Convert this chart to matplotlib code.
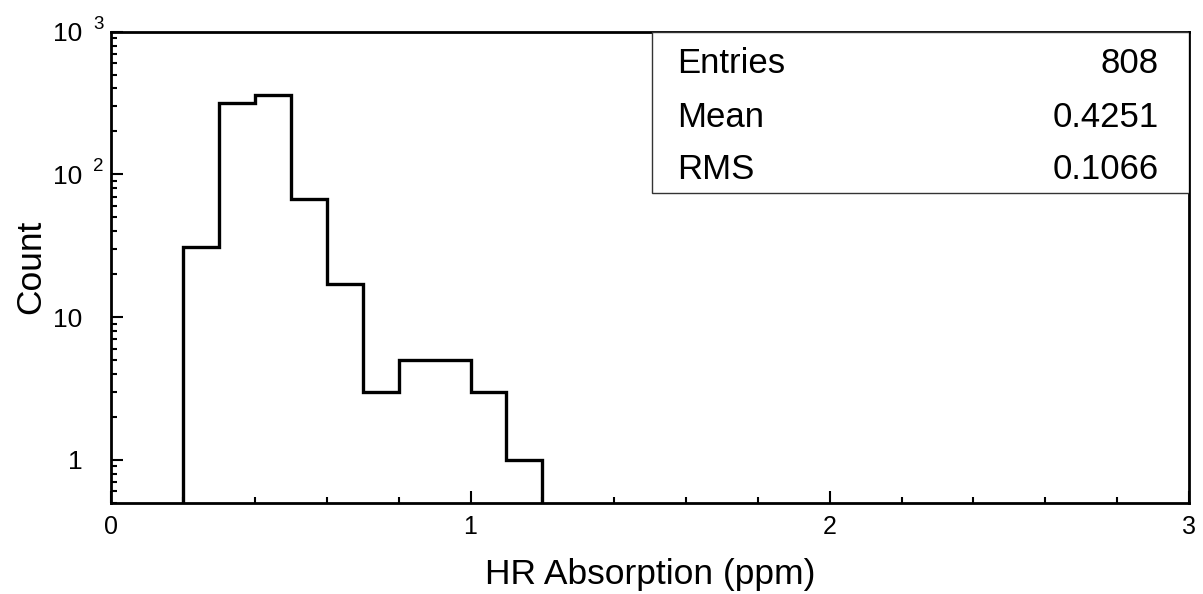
import numpy as np
import matplotlib
matplotlib.use("Agg")
import matplotlib.pyplot as plt
from matplotlib.ticker import FixedLocator, FixedFormatter, MultipleLocator, LogLocator, NullFormatter
from matplotlib.patches import Rectangle
from matplotlib.transforms import blended_transform_factory, offset_copy

# Data
bin_edges = [0.2, 0.3, 0.4, 0.5, 0.6, 0.7, 0.8, 0.9, 1.0, 1.1, 1.2]
counts = [31, 318, 358, 67, 17, 3, 5, 5, 3, 1]
stat_names = ["Entries", "Mean", "RMS"]
stat_values = ["808", "0.4251", "0.1066"]
x_ticks = [0, 1, 2, 3]
x_ticklabels = ["0", "1", "2", "3"]
y_ticks = [1, 10, 100, 1000]
y_ticklabels = ["1", "10", "10", "10"]
y_superscripts = {100: "2", 1000: "3"}

plt.rcParams['font.family'] = ['Liberation Sans', 'DejaVu Sans']

W, H = 1203, 594
fig = plt.figure(figsize=(W / 100, H / 100), dpi=100)
L, R, T, B = 111.3, 1189.0, 31.7, 502.8
ax = fig.add_axes([L / W, (H - B) / H, (R - L) / W, (B - T) / H])

def ax_x(px):
    return (px - L) / (R - L)

def ax_y(py):
    return (B - py) / (B - T)

ax.stairs(counts, bin_edges, baseline=0.5, color='black', linewidth=2.4)

ax.set_yscale('log')
ax.set_xlim(0, 3)
ax.set_ylim(0.5, 1000)

ax.xaxis.set_major_locator(FixedLocator(x_ticks))
ax.xaxis.set_major_formatter(FixedFormatter(x_ticklabels))
ax.xaxis.set_minor_locator(MultipleLocator(0.2))
ax.yaxis.set_major_locator(FixedLocator(y_ticks))
ax.yaxis.set_major_formatter(FixedFormatter(y_ticklabels))
ax.yaxis.set_minor_locator(LogLocator(base=10, subs=np.arange(2, 10), numticks=30))
ax.yaxis.set_minor_formatter(NullFormatter())

ax.tick_params(axis='both', which='major', direction='in', length=8.6, width=1.5,
               top=False, right=False)
ax.tick_params(axis='both', which='minor', direction='in', length=4.3, width=1.5,
               top=False, right=False)
ax.tick_params(axis='x', which='major', labelsize=18, pad=9)
ax.tick_params(axis='y', which='major', labelsize=19, pad=21)

for s in ax.spines.values():
    s.set_linewidth(2)

# superscripts for decade labels
trans = blended_transform_factory(ax.transAxes, ax.transData)
for val, sup in y_superscripts.items():
    ax.text(ax_x(93.5), val, sup, transform=offset_copy(trans, fig=fig, x=0, y=2.2, units='points'),
            fontsize=13.5, ha='left', va='baseline', clip_on=False)

ax.set_xlabel("HR Absorption (ppm)", fontsize=25.5, va='baseline')
ax.xaxis.set_label_coords(0.5, ax_y(584))
ax.set_ylabel("Count", fontsize=25.5, va='baseline')
ax.yaxis.set_label_coords(ax_x(40.5), 0.5)

# Stats box
bx0, by0 = ax_x(651.7), ax_y(192.7)
ax.add_patch(Rectangle((bx0, by0), 1 - bx0, 1 - by0, transform=ax.transAxes,
                       facecolor='white', edgecolor='#333333', linewidth=1, zorder=5))
row_baselines = [72.7, 126.7, 179.3]
for name, val, yy in zip(stat_names, stat_values, row_baselines):
    ax.text(ax_x(677.5), ax_y(yy), name, transform=ax.transAxes, fontsize=25,
            ha='left', va='baseline', zorder=6)
    ax.text(ax_x(1158.5), ax_y(yy), val, transform=ax.transAxes, fontsize=25,
            ha='right', va='baseline', zorder=6)

fig.savefig("out.png", dpi=100, facecolor='white')
